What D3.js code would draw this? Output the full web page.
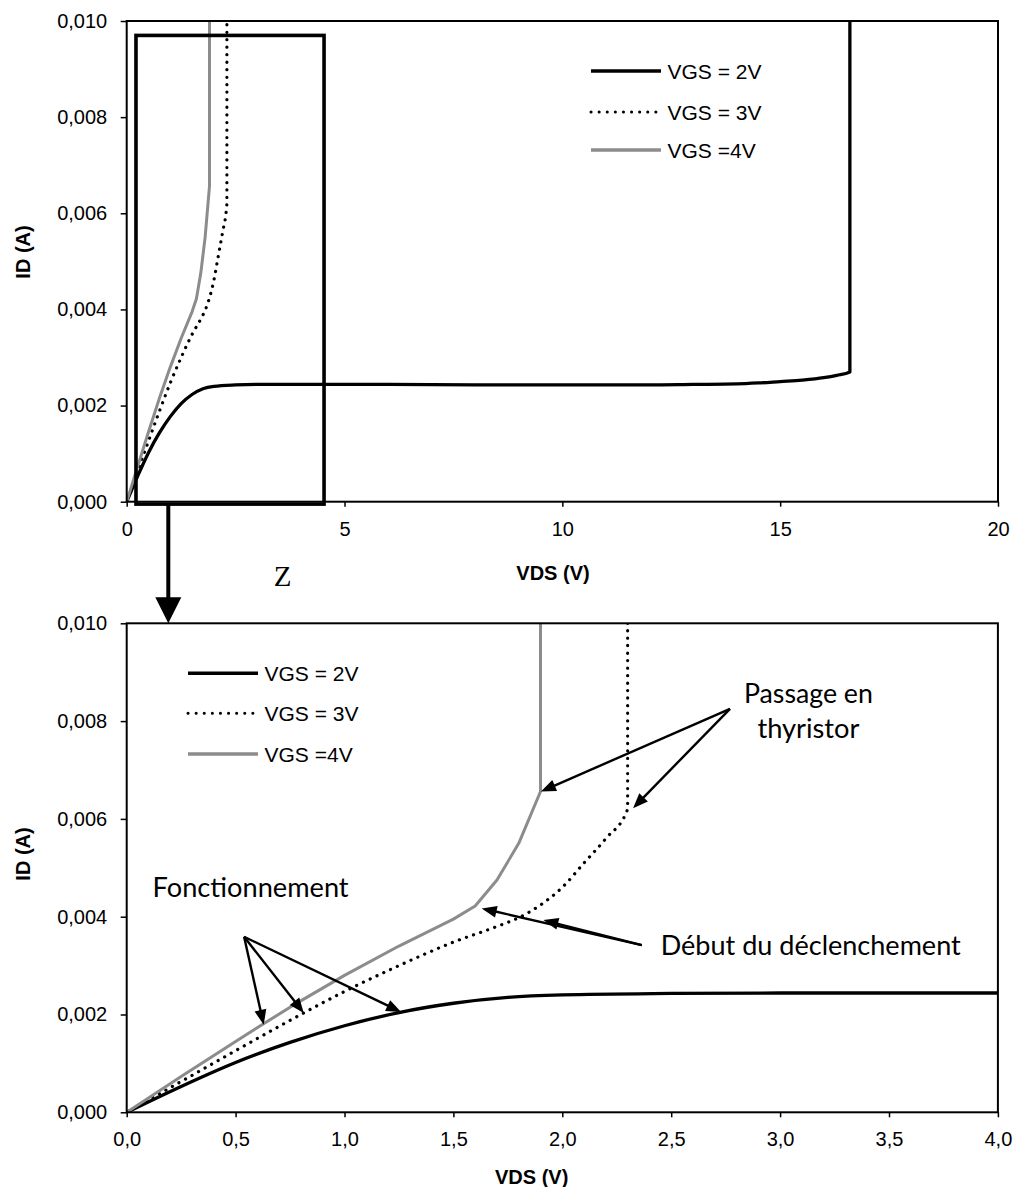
<!DOCTYPE html>
<html><head><meta charset="utf-8">
<script src="https://cdn.jsdelivr.net/npm/d3@7"></script>
<style>
html,body{margin:0;padding:0;background:#fff;}
svg{display:block;}
</style></head><body>
<svg id="chart" width="1016" height="1187"></svg>
<script>
// ---------------- data ----------------
const seriesNames = ["VGS = 2V", "VGS = 3V", "VGS =4V"];

const vdsVgs2 = [0, 0.25, 0.5, 0.75, 1.0, 1.25, 1.5, 1.75, 2.0, 2.5, 3.0, 4.0, 6, 8, 10, 12, 13, 14, 14.5, 15, 15.5, 16, 16.3, 16.6, 16.6];
const idVgs2  = [0, 0.00053, 0.00102, 0.00143, 0.00177, 0.00204, 0.00223, 0.00235, 0.0024, 0.00243, 0.00244, 0.00244, 0.00244, 0.00243, 0.00243, 0.00243, 0.00244, 0.00245, 0.00247, 0.0025, 0.00253, 0.00258, 0.00263, 0.0027, 0.010];

const vdsVgs3 = [0, 0.25, 0.5, 0.75, 1.0, 1.25, 1.5, 1.7, 1.8, 1.9, 2.0, 2.1, 2.2, 2.3, 2.3];
const idVgs3  = [0, 0.00063, 0.00126, 0.00188, 0.00247, 0.003, 0.00348, 0.0038, 0.00398, 0.00424, 0.0046, 0.0051, 0.0056, 0.0062, 0.010];

const vdsVgs4 = [0, 0.25, 0.5, 0.75, 1.0, 1.25, 1.5, 1.6, 1.7, 1.8, 1.9, 1.9];
const idVgs4  = [0, 0.00073, 0.00145, 0.00215, 0.0028, 0.0034, 0.00395, 0.00422, 0.00475, 0.0055, 0.00656, 0.010];

const topXTicks = [0, 5, 10, 15, 20];
const bottomXTicks = [0, 0.5, 1.0, 1.5, 2.0, 2.5, 3.0, 3.5, 4.0];
const yTicks = [0, 0.002, 0.004, 0.006, 0.008, 0.010];

// zoom box drawn on the top chart (data units)
const zoomBoxX = [0.213, 4.53];
const zoomBoxY = [-0.00005, 0.0097];
const zoomArrowX = 0.955;

// annotations on the bottom chart (data units): [fromV, fromI, toV, toI]
const fonctArrows = [[0.539, 0.00359, 0.629, 0.00179], [0.539, 0.00359, 0.813, 0.00203], [0.539, 0.00359, 1.26, 0.00205]];
const passageArrows = [[2.77, 0.00825, 1.902, 0.00656], [2.77, 0.00825, 2.325, 0.00622]];
const debutArrows = [[2.365, 0.00342, 1.63, 0.00417], [2.365, 0.00342, 1.913, 0.00393]];

// ---------------- layout ----------------
const svg = d3.select("#chart");
const FONT = "'Liberation Sans', Arial, Helvetica, sans-serif";
const ANNO = "Lato, 'Open Sans', sans-serif";

const series = [
  {name: seriesNames[0], pts: d3.zip(vdsVgs2, idVgs2), color: "#000", width: 3.3, dash: null, cap: "butt", curve: d3.curveMonotoneX},
  {name: seriesNames[1], pts: d3.zip(vdsVgs3, idVgs3), color: "#000", width: 3.2, dash: "0.1 7.4", cap: "round", curve: d3.curveMonotoneX},
  {name: seriesNames[2], pts: d3.zip(vdsVgs4, idVgs4), color: "#8c8c8c", width: 3, dash: null, cap: "butt", curve: d3.curveLinear}
];

const fmtY = d => d3.format(".3f")(d).replace(".", ",");

function panel(opts) {
  const {x, y, xTicks, xFmt, clipId, legend, yLabelY, xLabelX, xLabelY} = opts;
  const g = svg.append("g");
  const [x0, x1] = x.range();
  const [y0, y1] = y.range();

  g.append("clipPath").attr("id", clipId).append("rect")
    .attr("x", x0).attr("y", y1).attr("width", x1 - x0).attr("height", y0 - y1);

  // y axis
  g.append("g").attr("transform", `translate(${x0},0)`)
    .call(d3.axisLeft(y).tickValues(yTicks).tickFormat(fmtY).tickSize(6).tickPadding(13.5))
    .call(a => a.select(".domain").remove())
    .attr("font-size", 20).attr("font-family", FONT)
    .call(a => a.selectAll("text").attr("fill", "#000"))
    .call(a => a.selectAll("line").attr("stroke", "#000").attr("stroke-width", 1.5));

  // x axis
  g.append("g").attr("transform", `translate(0,${y0})`)
    .call(d3.axisBottom(x).tickValues(xTicks).tickFormat(xFmt).tickSize(5).tickPadding(14.8))
    .call(a => a.select(".domain").remove())
    .attr("font-size", 20).attr("font-family", FONT)
    .call(a => a.selectAll("text").attr("fill", "#000"))
    .call(a => a.selectAll("line").attr("stroke", "#000").attr("stroke-width", 1.5));

  // curves
  const cg = g.append("g").attr("clip-path", `url(#${clipId})`);
  series.forEach(s => {
    const line = d3.line().x(d => x(d[0])).y(d => y(d[1])).curve(s.curve);
    cg.append("path").attr("d", line(s.pts))
      .attr("fill", "none").attr("stroke", s.color).attr("stroke-width", s.width)
      .attr("stroke-dasharray", s.dash).attr("stroke-linecap", s.cap)
      .attr("stroke-linejoin", "round");
  });

  // frame
  g.append("rect").attr("x", x0).attr("y", y1).attr("width", x1 - x0).attr("height", y0 - y1)
    .attr("fill", "none").attr("stroke", "#000").attr("stroke-width", 2);

  // legend
  series.forEach((s, i) => {
    const ly = legend.y[i];
    g.append("line").attr("x1", legend.x1).attr("x2", legend.x2).attr("y1", ly).attr("y2", ly)
      .attr("stroke", s.color).attr("stroke-width", s.dash ? 3 : 3.4)
      .attr("stroke-dasharray", s.dash ? "0.1 8" : null).attr("stroke-linecap", s.cap);
    g.append("text").attr("x", legend.x2 + 6.5).attr("y", ly + 8)
      .attr("font-family", FONT).attr("font-size", 21).attr("fill", "#000").text(s.name);
  });

  // axis titles
  g.append("text").attr("transform", `translate(30,${yLabelY}) rotate(-90)`)
    .attr("text-anchor", "middle").attr("font-family", FONT).attr("font-weight", "bold")
    .attr("font-size", 20).text("ID (A)");
  g.append("text").attr("x", xLabelX).attr("y", xLabelY)
    .attr("text-anchor", "middle").attr("font-family", FONT).attr("font-weight", "bold")
    .attr("font-size", 20).text("VDS (V)");
  return g;
}

const xTop = d3.scaleLinear().domain([0, 20]).range([126.7, 998]);
const yTop = d3.scaleLinear().domain([0, 0.010]).range([501.7, 21]);
const xBot = d3.scaleLinear().domain([0, 4]).range([126.7, 997.9]);
const yBot = d3.scaleLinear().domain([0, 0.010]).range([1112.3, 623.3]);

const gTop = panel({x: xTop, y: yTop, xTicks: topXTicks, xFmt: d => String(d), clipId: "clipTop",
  legend: {x1: 591, x2: 661, y: [71, 112, 150]}, yLabelY: 252, xLabelX: 553, xLabelY: 580});
const gBot = panel({x: xBot, y: yBot, xTicks: bottomXTicks, xFmt: d => d3.format(".1f")(d).replace(".", ","), clipId: "clipBot",
  legend: {x1: 188, x2: 258, y: [673.3, 713.3, 754]}, yLabelY: 854, xLabelX: 531.7, xLabelY: 1184});

// zoom box on top chart
gTop.append("rect")
  .attr("x", xTop(zoomBoxX[0])).attr("y", yTop(zoomBoxY[1]))
  .attr("width", xTop(zoomBoxX[1]) - xTop(zoomBoxX[0]))
  .attr("height", yTop(zoomBoxY[0]) - yTop(zoomBoxY[1]))
  .attr("fill", "none").attr("stroke", "#000").attr("stroke-width", 3.6);

// big arrow from the zoom box to the bottom chart
const ax = xTop(zoomArrowX), ayStart = yTop(zoomBoxY[0]), ayTip = yBot(0.010);
svg.append("line").attr("x1", ax).attr("x2", ax).attr("y1", ayStart).attr("y2", ayTip - 24)
  .attr("stroke", "#000").attr("stroke-width", 4);
svg.append("path").attr("d", `M${ax - 13},${ayTip - 26}L${ax + 13},${ayTip - 26}L${ax},${ayTip}Z`).attr("fill", "#000");
svg.append("text").attr("x", 282.7).attr("y", 586).attr("text-anchor", "middle")
  .attr("font-family", "'Liberation Serif', 'Times New Roman', serif").attr("font-size", 29).text("Z");

// annotation arrows
function arrow(a, headLen = 15, headW = 12, sw = 2.4) {
  const x1 = xBot(a[0]), y1 = yBot(a[1]), x2 = xBot(a[2]), y2 = yBot(a[3]);
  const dx = x2 - x1, dy = y2 - y1, L = Math.hypot(dx, dy);
  const ux = dx / L, uy = dy / L;
  const bx = x2 - ux * headLen, by = y2 - uy * headLen;
  svg.append("line").attr("x1", x1).attr("y1", y1).attr("x2", bx + ux * 2).attr("y2", by + uy * 2)
    .attr("stroke", "#000").attr("stroke-width", sw);
  svg.append("path").attr("d",
    `M${x2},${y2}L${bx - uy * headW / 2},${by + ux * headW / 2}L${bx + uy * headW / 2},${by - ux * headW / 2}Z`)
    .attr("fill", "#000");
}
fonctArrows.forEach(a => arrow(a));
passageArrows.forEach(a => arrow(a));
debutArrows.forEach(a => arrow(a));

// annotation texts
function anno(text, xv, yv, len, anchor) {
  svg.append("text").attr("x", xBot(xv)).attr("y", yBot(yv)).attr("text-anchor", anchor)
    .attr("font-family", ANNO).attr("font-size", 26).attr("fill", "#000")
    .attr("textLength", len).attr("lengthAdjust", "spacingAndGlyphs").text(text);
}
anno("Passage en", 3.13, 0.008376, 129, "middle");
anno("thyristor", 3.13, 0.00766, 102, "middle");
anno("Fonctionnement", 0.119, 0.0044, 196, "start");
anno("Début du déclenchement", 2.452, 0.003217, 300, "start");
</script>
</body></html>
